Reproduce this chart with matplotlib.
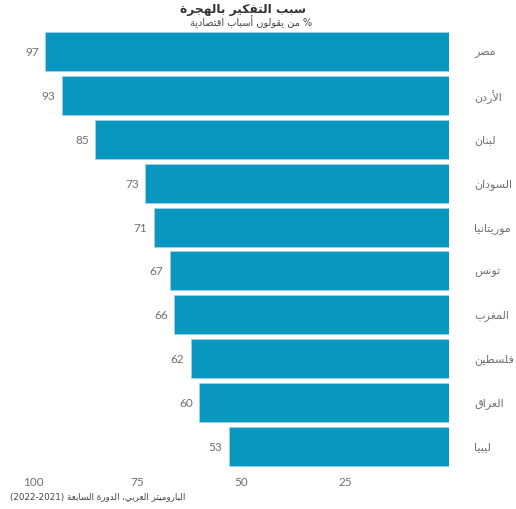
import re
import matplotlib
matplotlib.use('Agg')
import matplotlib.pyplot as plt

countries = ['مصر', 'الأردن', 'لبنان', 'السودان', 'موريتانيا',
             'تونس', 'المغرب', 'فلسطين', 'العراق', 'ليبيا']
values = [97, 93, 85, 73, 71, 67, 66, 62, 60, 53]
x_ticks = [100, 75, 50, 25]

title = 'سبب التفكير بالهجرة'
subtitle = '% من يقولون أسباب اقتصادية'
source = 'الباروميتر العربي، الدورة السابعة (2021-2022)'

# --- minimal arabic shaping (presentation forms) + right-to-left ordering ---
DUAL = {'ئ': 0xFE89, 'ب': 0xFE8F, 'ت': 0xFE95, 'ث': 0xFE99, 'ج': 0xFE9D,
        'ح': 0xFEA1, 'خ': 0xFEA5, 'س': 0xFEB1, 'ش': 0xFEB5, 'ص': 0xFEB9,
        'ض': 0xFEBD, 'ط': 0xFEC1, 'ظ': 0xFEC5, 'ع': 0xFEC9, 'غ': 0xFECD,
        'ف': 0xFED1, 'ق': 0xFED5, 'ك': 0xFED9, 'ل': 0xFEDD, 'م': 0xFEE1,
        'ن': 0xFEE5, 'ه': 0xFEE9, 'ي': 0xFEF1}
RIGHT = {'آ': 0xFE81, 'أ': 0xFE83, 'ؤ': 0xFE85, 'إ': 0xFE87, 'ا': 0xFE8D,
         'ة': 0xFE93, 'د': 0xFEA9, 'ذ': 0xFEAB, 'ر': 0xFEAD, 'ز': 0xFEAF,
         'و': 0xFEED, 'ى': 0xFEEF,
         # lam-alef ligatures, stored as private single chars
         '\uE001': 0xFEF5, '\uE002': 0xFEF7, '\uE003': 0xFEF9, '\uE004': 0xFEFB}
LAM_ALEF = {'لآ': '\uE001', 'لأ': '\uE002', 'لإ': '\uE003', 'لا': '\uE004'}
MIRROR = str.maketrans('()', ')(')


def shape(text):
    for k, v in LAM_ALEF.items():
        text = text.replace(k, v)
    out = []
    n = len(text)
    for i, ch in enumerate(text):
        if ch not in DUAL and ch not in RIGHT:
            out.append(ch)
            continue
        prev_joins = i > 0 and text[i - 1] in DUAL
        next_joins = ch in DUAL and i < n - 1 and (text[i + 1] in DUAL or text[i + 1] in RIGHT)
        base = DUAL.get(ch, RIGHT.get(ch))
        if prev_joins and next_joins:
            code = base + 3
        elif prev_joins:
            code = base + 1
        elif next_joins:
            code = base + 2
        else:
            code = base
        out.append(chr(code))
    visual = ''.join(out)[::-1]
    visual = re.sub(r'\d+', lambda m: m.group()[::-1], visual)
    return visual.translate(MIRROR)


bar_color = '#0a97bf'
label_color = '#707070'
arabic_font = ['DejaVu Sans']
num_font = ['Lato', 'DejaVu Sans']

fig = plt.figure(figsize=(5.16, 5.10), dpi=100)
W, H = 516, 510
ax = fig.add_axes([33 / W, 1 - 469 / H, (449 - 33) / W, (469 - 31) / H])

y = list(range(len(values)))
bars = ax.barh(y, values, height=0.89, color=bar_color, edgecolor='#9fd3e6', linewidth=0.6)
ax.set_xlim(100, 0)
ax.set_ylim(len(values) - 0.5, -0.5)

for bar, v in zip(bars, values):
    ax.text(v + 1.6, bar.get_y() + bar.get_height() / 2, f'{v}', ha='right', va='center',
            fontsize=8.5, color=label_color, family=num_font)

for yi, name in zip(y, countries):
    ax.text(-6.0, yi, shape(name), ha='left', va='center', fontsize=8,
            color=label_color, family=arabic_font, clip_on=False)

ax.set_yticks([])
ax.set_xticks(x_ticks)
ax.set_xticklabels([str(t) for t in x_ticks], family=num_font,
                   fontsize=8.5, color=label_color)
ax.tick_params(axis='x', length=0, pad=6)
for s in ax.spines.values():
    s.set_visible(False)

fig.text(306 / W, 1 - 12.5 / H, shape(title), ha='right', va='baseline', fontsize=8.8,
         fontweight='bold', color='#333333', family=arabic_font)
fig.text(312 / W, 1 - 26 / H, shape(subtitle), ha='right', va='baseline', fontsize=7,
         color='#444444', family=arabic_font)
fig.text(10 / W, 1 - 497 / H, shape(source), ha='left', va='center', fontsize=6.3,
         color='#444444', family=arabic_font)

fig.savefig('out.png', dpi=100)
